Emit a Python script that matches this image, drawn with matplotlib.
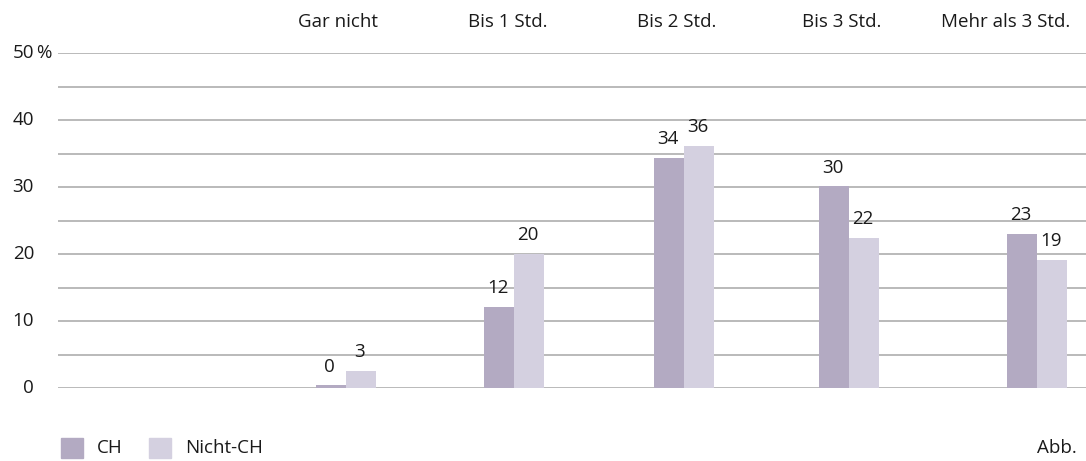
import matplotlib.pyplot as plt
import numpy as np

plt.rcParams['font.family'] = ['Open Sans', 'DejaVu Sans']

categories = ['Gar nicht', 'Bis 1 Std.', 'Bis 2 Std.', 'Bis 3 Std.', 'Mehr als 3 Std.']
ch = [0.4, 12.1, 34.3, 30.1, 23.0]
nicht_ch = [2.6, 20.0, 36.1, 22.4, 19.1]
series_names = ['CH', 'Nicht-CH']
yticks = [0, 10, 20, 30, 40, 50]

C_CH = '#b3aac2'
C_NCH = '#d4d0e0'
GRID = '#b4b4b4'
TXT = '#1a1a1a'
FS = 13.5

W, H = 1086, 461
fig = plt.figure(figsize=(W / 100, H / 100), dpi=100)
# axes spans the gridline area, x in pixel units
ax = fig.add_axes([58 / W, 1 - 388 / H, 1 - 58 / W, (388 - 53) / H])
ax.set_xlim(58, W)
ax.set_ylim(0, 50)
ax.axis('off')

# group centres (boundary between the pair of bars) and top label centres, px
centres = np.array([346, 514, 684, 849, 1037])
label_x = [338, 508, 677, 842, 1006]
bw = 30

for y in np.arange(0, 51, 5):
    gl = ax.axhline(y, color=GRID, lw=1.3, zorder=0)
    gl.set_snap(True)

b1 = ax.bar(centres - bw / 2, ch, width=bw, color=C_CH, zorder=2)
b2 = ax.bar(centres + bw / 2, nicht_ch, width=bw, color=C_NCH, zorder=2)

for bars, vals in ((b1, ch), (b2, nicht_ch)):
    for rect, v in zip(bars, vals):
        ax.annotate(f'{v:.0f}', (rect.get_x() + rect.get_width() / 2, v),
                    xytext=(-1, 7), textcoords='offset points',
                    ha='center', va='bottom', fontsize=FS, color=TXT)

# category labels along the top
for lx, lab in zip(label_x, categories):
    fig.text(lx / W, 1 - 22 / H, lab, ha='center', va='center',
             fontsize=FS, color=TXT)

# y tick labels
for t in yticks:
    yy = ax.transData.transform((0, t))[1] / H
    fig.text(34 / W, yy, str(t), ha='right', va='center', fontsize=FS, color=TXT)
fig.text(36 / W, ax.transData.transform((0, 50))[1] / H, '%', ha='left', va='center',
         fontsize=FS, color=TXT)

# legend
for x0, col, name in ((61, C_CH, series_names[0]), (149, C_NCH, series_names[1])):
    fig.patches.append(plt.Rectangle((x0 / W, 1 - 458 / H), 22 / W, 20 / H,
                                     transform=fig.transFigure, color=col))
    fig.text((x0 + 36) / W, 1 - 448 / H, name, ha='left', va='center',
             fontsize=FS, color=TXT)

fig.text(1037 / W, 1 - 448 / H, 'Abb.', ha='left', va='center', fontsize=FS, color=TXT)

fig.savefig('out.png', dpi=100)
